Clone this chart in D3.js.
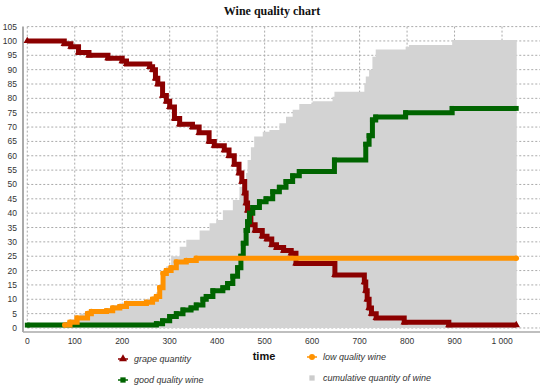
<!DOCTYPE html>
<html><head><meta charset="utf-8">
<script src="https://cdn.jsdelivr.net/npm/d3@7"></script>
<style>body{margin:0;background:#fff}svg{display:block}</style>
</head><body>
<svg id="c" width="550" height="389"></svg>
<script>
const title = "Wine quality chart";
const xTicks = [0,100,200,300,400,500,600,700,800,900,1000];
const yTicks = d3.range(0,106,5);
const grape = [[0,100],[78,99],[92,98],[108,96],[130,95],[170,94],[200,93],[209,92],[258,91],[264,90],[270,87],[275,85],[285,81],[293,79],[300,77],[310,73],[321,71],[348,70],[362,68],[383,65],[394,63.5],[415,62],[425,60],[436,57],[446,54],[452,51],[458,47],[461,43.5],[464,41],[471,36],[480,34],[495,32],[505,31],[515,29],[525,28],[540,27],[556,26],[566,22.5],[648,18.5],[710,16],[713,13],[716,10],[720,7],[725,5],[735,3.5],[794,2],[888,1],[1030,1]];
const lowQ = [[79,1],[90,2],[105,3.5],[127,5],[135,5.7],[167,6],[180,7],[195,7.5],[209,8.5],[251,9],[264,10],[272,11],[279,14],[286,19],[293,20],[303,21],[314,23],[335,23.5],[356,24.3],[1030,24.3]];
const goodQ = [[0,1],[272,1.5],[285,2.5],[300,4],[314,5],[328,6.3],[345,7],[356,8],[370,10],[377,11],[391,13],[412,14],[422,15.5],[433,18],[443,21],[450,25],[455,29.5],[461,34],[464,37],[468,40],[475,42],[489,44],[503,45],[517,47.5],[531,49],[545,51],[559,53],[573,54.5],[647,58.5],[713,64],[720,67],[727,72.5],[734,73.5],[797,75],[895,76.5],[1030,76.5]];
const cumul = [[0,1],[79,2],[90,3],[103,4],[110,5],[127,6],[167,7],[180,8],[195,8.5],[209,9.5],[251,10],[264,11],[272,12.5],[279,15],[286,20],[293,21.5],[303,25],[321,28.3],[335,30.7],[363,34],[384,36.5],[398,37.6],[412,41],[433,44.6],[447,49.2],[461,54],[464,58.5],[471,63],[478,66.7],[496,68.4],[510,69],[531,71.3],[545,73.6],[559,76],[573,78],[601,79],[643,80.6],[647,82.3],[710,85.3],[713,87.6],[720,90],[727,94.5],[734,97],[797,98],[804,98.6],[895,100.3],[1031,100.3]];
const legendNames = ["grape quantity","low quality wine","good quality wine","cumulative quantity of wine"];

const svg = d3.select("#c");
const x = d3.scaleLinear().domain([-9,1080]).range([23,540]);
const y = d3.scaleLinear().domain([-1.4,105]).range([332,26.6]);

svg.append("text").attr("x",272).attr("y",15).attr("text-anchor","middle")
  .attr("font-family","Liberation Serif, serif").attr("font-weight","bold").attr("font-size",12)
  .attr("fill","#111").text(title);

const g = svg.append("g");
g.selectAll(".hg").data(yTicks).join("line")
  .attr("x1",x(0)).attr("x2",x(1080)).attr("y1",d=>y(d)).attr("y2",d=>y(d))
  .attr("stroke","#aaa").attr("stroke-width",1).attr("stroke-dasharray","2,2");
g.selectAll(".vg").data(xTicks).join("line")
  .attr("x1",d=>x(d)).attr("x2",d=>x(d)).attr("y1",y(105)).attr("y2",y(0))
  .attr("stroke","#aaa").attr("stroke-width",1).attr("stroke-dasharray","2,2");

const area = d3.area().x(d=>x(d[0])).y0(y(0)).y1(d=>y(d[1])).curve(d3.curveStepAfter);
svg.append("path").datum(cumul).attr("d",area).attr("fill","#d3d3d3");

svg.append("line").attr("x1",x(-9)).attr("x2",x(-9)).attr("y1",y(105)).attr("y2",y(-1.4)).attr("stroke","#aaa").attr("stroke-width",2);
svg.append("line").attr("x1",x(-9)).attr("x2",x(1080)).attr("y1",y(-1.4)).attr("y2",y(-1.4)).attr("stroke","#aaa").attr("stroke-width",1.5);

svg.selectAll(".yl").data(yTicks).join("text").attr("x",17).attr("y",d=>y(d)+3)
  .attr("text-anchor","end").attr("font-family","Liberation Sans, Arial, sans-serif").attr("font-size",8.5).attr("fill","#333").text(d=>d);
svg.selectAll(".xl").data(xTicks).join("text").attr("x",d=>x(d)).attr("y",344)
  .attr("text-anchor","middle").attr("font-family","Liberation Sans, Arial, sans-serif").attr("font-size",8.5).attr("fill","#333")
  .text(d=>d>=1000?d3.format(",")(d).replace(","," "):d);
svg.append("text").attr("x",264).attr("y",360).attr("text-anchor","middle")
  .attr("font-family","Liberation Sans, Arial, sans-serif").attr("font-weight","bold").attr("font-size",11).attr("fill","#111").text("time");

const line = d3.line().x(d=>x(d[0])).y(d=>y(d[1])).curve(d3.curveStepAfter);
const series = [
  {data:grape,color:"#8b0000",sym:d3.symbolTriangle},
  {data:goodQ,color:"#006400",sym:d3.symbolSquare},
  {data:lowQ,color:"#ff9200",sym:d3.symbolCircle}
];
series.forEach(s=>{
  svg.append("path").datum(s.data).attr("d",line).attr("fill","none").attr("stroke",s.color).attr("stroke-width",5);
  svg.selectAll(null).data(s.data).join("path")
    .attr("d",d3.symbol().type(s.sym).size(24))
    .attr("transform",d=>`translate(${x(d[0])},${y(d[1])})`).attr("fill",s.color);
});

const leg = [
  {name:legendNames[0],color:"#8b0000",sym:d3.symbolTriangle,lx:123,ly:359},
  {name:legendNames[1],color:"#ff9200",sym:d3.symbolCircle,lx:312,ly:357},
  {name:legendNames[2],color:"#006400",sym:d3.symbolSquare,lx:123,ly:380},
  {name:legendNames[3],color:"#cccccc",sym:d3.symbolSquare,lx:312,ly:378,noline:true}
];
leg.forEach(l=>{
  if(!l.noline) svg.append("line").attr("x1",l.lx-5).attr("x2",l.lx+5).attr("y1",l.ly).attr("y2",l.ly).attr("stroke",l.color).attr("stroke-width",1.5);
  svg.append("path").attr("d",d3.symbol().type(l.sym).size(28)).attr("transform",`translate(${l.lx},${l.ly})`).attr("fill",l.color);
  svg.append("text").attr("x",l.lx+11).attr("y",l.ly+3).attr("font-family","Liberation Sans, Arial, sans-serif")
    .attr("font-style","italic").attr("font-size",9).attr("fill","#333").text(l.name);
});
</script>
</body></html>
